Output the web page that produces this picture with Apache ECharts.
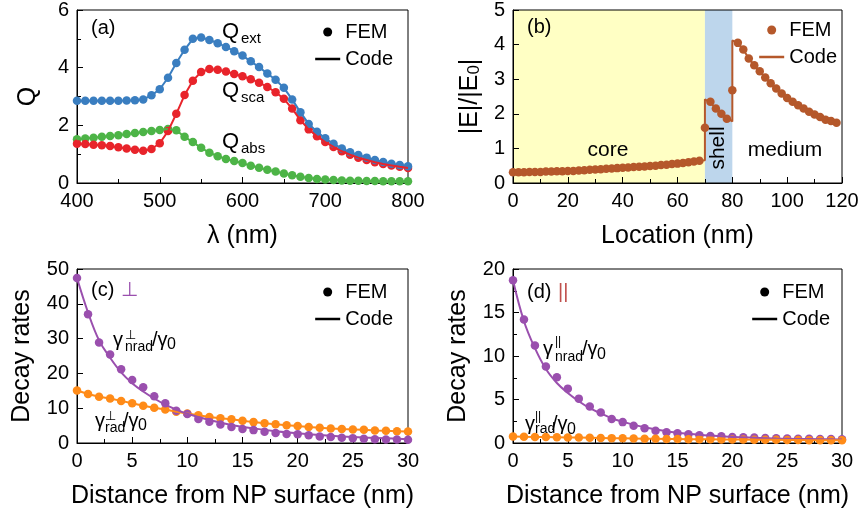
<!DOCTYPE html>
<html>
<head>
<meta charset="utf-8">
<script src="https://cdn.jsdelivr.net/npm/echarts@6/dist/echarts.min.js"></script>
<style>html,body{margin:0;padding:0;background:#fff;}#c{width:864px;height:521px;}</style>
</head>
<body>
<div id="c"></div>
<script>
// ---------- Panel (a) ----------
const wavelength = [400,410,420,430,440,450,460,470,480,490,500,510,520,530,540,550,560,570,580,590,600,610,620,630,640,650,660,670,680,690,700,710,720,730,740,750,760,770,780,790,800];
const qExt = [2.85,2.85,2.85,2.85,2.85,2.85,2.86,2.87,2.90,3.04,3.25,3.65,4.16,4.62,5.00,5.05,4.96,4.85,4.72,4.57,4.42,4.22,4.02,3.80,3.58,3.30,2.90,2.45,2.05,1.78,1.55,1.36,1.20,1.07,0.97,0.88,0.80,0.73,0.67,0.62,0.58];
const qSca = [1.36,1.35,1.33,1.31,1.28,1.24,1.20,1.15,1.12,1.18,1.38,1.80,2.40,3.05,3.55,3.85,3.95,3.93,3.87,3.78,3.70,3.60,3.48,3.33,3.15,2.92,2.58,2.18,1.86,1.62,1.42,1.25,1.10,0.98,0.88,0.80,0.72,0.66,0.61,0.56,0.52];
const qAbs = [1.52,1.54,1.57,1.60,1.63,1.66,1.70,1.73,1.77,1.80,1.84,1.87,1.83,1.60,1.42,1.22,1.05,0.93,0.83,0.76,0.69,0.60,0.53,0.46,0.40,0.33,0.27,0.22,0.17,0.14,0.12,0.10,0.09,0.08,0.08,0.07,0.07,0.06,0.06,0.06,0.06];

// ---------- Panel (b) ----------
const locFEM = [0,2,4,6,8,10,12,14,16,18,20,22,24,26,28,30,32,34,36,38,40,42,44,46,48,50,52,54,56,58,60,62,64,66,68,70,72,74,76,78,80,82,84,86,88,90,92,94,96,98,100,102,104,106,108,110,112,114,116,118];
const eFEM = [0.31,0.31,0.31,0.32,0.32,0.32,0.33,0.33,0.34,0.34,0.35,0.35,0.36,0.37,0.38,0.39,0.40,0.41,0.42,0.43,0.44,0.45,0.46,0.47,0.48,0.49,0.50,0.52,0.53,0.55,0.56,0.58,0.60,0.62,0.64,
  1.60,2.35,2.15,2.00,1.86,2.68,
  4.05,3.86,3.60,3.40,3.23,3.05,2.88,2.73,2.59,2.46,2.35,2.25,2.15,2.06,1.98,1.91,1.83,1.79,1.74];
const locCode = [0,10,20,30,40,50,60,64,68,70,70,72,74,76,78,80,80,82,84,86,88,90,92,94,96,98,100,102,104,106,108,110,112,114,116,118];
const eCode = [0.31,0.32,0.35,0.39,0.44,0.49,0.56,0.60,0.64,0.66,2.42,2.32,2.16,2.01,1.88,1.78,4.12,4.05,3.86,3.60,3.40,3.23,3.05,2.88,2.73,2.59,2.46,2.35,2.25,2.15,2.06,1.98,1.91,1.83,1.79,1.74];
const regionEdges = [0,70,80];
const regionNames = ['core','shell','medium'];

// ---------- Panels (c) and (d) ----------
const dist = [0,1,2,3,4,5,6,7,8,9,10,11,12,13,14,15,16,17,18,19,20,21,22,23,24,25,26,27,28,29,30];
const cNradFEM = [47.4,37.0,28.9,25.4,21.2,18.1,16.0,13.4,11.4,9.3,8.3,6.9,6.1,5.3,4.6,4.0,3.7,3.2,2.9,2.6,2.5,2.2,1.9,1.7,1.5,1.4,1.25,1.1,1.0,1.0,0.9];
const cRadFEM = [15.1,14.1,13.3,12.8,12.1,11.4,10.7,10.1,9.6,9.0,8.5,8.0,7.5,7.1,6.8,6.4,6.0,5.7,5.4,5.1,4.9,4.6,4.4,4.2,4.0,3.9,3.8,3.6,3.5,3.4,3.3];
const codeDist = [0,1,2,3,4,5,6,7,8,9,10,12,14,16,18,20,22,24,26,28,30];
const cNradCode = [47.4,37.5,29.5,24.5,20.3,17.2,14.8,12.8,11.0,9.6,8.4,6.6,5.2,4.2,3.4,2.8,2.3,1.9,1.6,1.35,1.1];
const dNradFEM = [18.7,14.2,11.2,8.8,7.55,6.25,5.1,4.2,3.5,2.77,2.4,1.97,1.7,1.42,1.23,1.12,1.0,0.89,0.81,0.77,0.69,0.66,0.62,0.58,0.55,0.53,0.5,0.49,0.46,0.45,0.42];
const dRadFEM = [0.75,0.72,0.70,0.68,0.66,0.64,0.62,0.60,0.58,0.56,0.54,0.52,0.50,0.49,0.47,0.46,0.44,0.43,0.42,0.41,0.40,0.39,0.38,0.37,0.36,0.35,0.34,0.33,0.33,0.32,0.31];
const dNradCode = [18.7,14.0,10.9,8.5,6.9,5.75,4.8,4.0,3.4,2.85,2.45,1.8,1.35,1.05,0.85,0.7,0.6,0.52,0.47,0.43,0.4];

const FONT = 'Liberation Sans, Arial, sans-serif';
const C = {blue:'#3A7EC0', red:'#E8242B', green:'#4DB447', brown:'#B5582B', purple:'#9A4FAE', orange:'#FF8B18', yellow:'#FFFFC4', lblue:'#BDD6EC', dred:'#C0504D'};
// thin horizontal line icon whose bounding box is 25x9 (tiny invisible slivers set the box)
const LINE_ICON = 'path://M0,0L25,0L25,0.01L0,0.01Z M0,3.25L25,3.25L25,5.75L0,5.75Z M0,8.99L25,8.99L25,9L0,9Z';

function zip(xs, ys){ return xs.map((x,i)=>[x, ys[i]]); }

function xAx(g, min, max, interval, name, minorSplit){
  return {gridIndex:g, type:'value', min:min, max:max, interval:interval, name:name,
    nameLocation:'middle', nameGap:41, z:1,
    nameTextStyle:{fontSize:25, color:'#000', fontFamily:FONT},
    axisLine:{show:true, onZero:false, lineStyle:{color:'#000', width:1}},
    axisTick:{show:true, inside:true, length:6, lineStyle:{color:'#000'}},
    minorTick:{show:!!minorSplit, splitNumber:minorSplit||5, length:4, lineStyle:{color:'#000'}},
    axisLabel:{color:'#000', fontSize:20, fontFamily:FONT, margin:8},
    splitLine:{show:false}};
}
function yAx(g, min, max, interval, name, nameGap, minorSplit, rich){
  return {gridIndex:g, type:'value', min:min, max:max, interval:interval, name:name,
    nameLocation:'middle', nameGap:nameGap, z:1,
    nameTextStyle:{fontSize:25, color:'#000', fontFamily:FONT, rich:rich},
    axisLine:{show:true, onZero:false, lineStyle:{color:'#000', width:1}},
    axisTick:{show:true, inside:true, length:6, lineStyle:{color:'#000'}},
    minorTick:{show:!!minorSplit, splitNumber:minorSplit||5, length:4, lineStyle:{color:'#000'}},
    axisLabel:{color:'#000', fontSize:20, fontFamily:FONT, margin:8},
    splitLine:{show:false}};
}
function fem(g, data, color){
  return {name:'FEM', type:'scatter', xAxisIndex:g, yAxisIndex:g, data:data, symbol:'circle',
    symbolSize:8.5, itemStyle:{color:color, opacity:1}, z:2, silent:true};
}
function code(g, data, color, smooth){
  return {name:'Code', type:'line', xAxisIndex:g, yAxisIndex:g, data:data, symbol:'none',
    smooth:smooth||false, lineStyle:{color:color, width:2}, itemStyle:{color:color}, z:3, silent:true};
}
function legendFor(right, top, color){
  return {right:right, top:top, orient:'vertical', padding:0, itemWidth:25, itemHeight:9, itemGap:7,
    selectedMode:false, align:'left',
    textStyle:{fontSize:20, color:'#000', fontFamily:FONT, padding:[0,0,0,0]},
    data:[{name:'FEM', icon:'circle', itemStyle:{color:color}},
          {name:'Code', icon:LINE_ICON, itemStyle:{color:color, borderWidth:0}}]};
}
function txt(x, y, s, size, opts){
  opts = opts || {};
  return {type:'text', x:x, y:y, z:20, silent:true, rotation:opts.rot||0,
    style:{text:s, fill:opts.color||'#000', font:size+'px '+FONT,
      align:opts.align||'left', verticalAlign:opts.va||'middle'}};
}

const grids = [
  {left:77, top:9, width:331, height:174},
  {left:513, top:9, width:329, height:174},
  {left:77, top:269, width:331, height:174},
  {left:513, top:269, width:329, height:174}
].map(g=>Object.assign({show:true, borderColor:'#000', borderWidth:1, backgroundColor:'transparent', z:1}, g));

const option = {
  animation:false,
  backgroundColor:'#fff',
  textStyle:{fontFamily:FONT},
  grid:grids,
  xAxis:[
    xAx(0, 400, 800, 100, 'λ (nm)', 2),
    xAx(1, 0, 120, 20, 'Location (nm)', 2),
    xAx(2, 0, 30, 5, 'Distance from NP surface (nm)', 2),
    xAx(3, 0, 30, 5, 'Distance from NP surface (nm)', 2)
  ],
  yAxis:[
    yAx(0, 0, 6, 2, 'Q', 36, 2),
    yAx(1, 0, 5, 1, '|E|/|E{s|0}|', 30, 0, {s:{fontSize:17, verticalAlign:'bottom', color:'#000', fontFamily:FONT}}),
    yAx(2, 0, 50, 10, 'Decay rates', 42, 0),
    yAx(3, 0, 20, 5, 'Decay rates', 42, 2)
  ],
  legend:[
    legendFor(471, 22, '#000'),
    legendFor(27, 20, C.brown),
    legendFor(471, 282, '#000'),
    legendFor(34, 282, '#000')
  ],
  series:[
    // background regions in (b)
    {name:'regions', type:'line', xAxisIndex:1, yAxisIndex:1, data:[], z:0, silent:true,
      markArea:{silent:true, z:0, data:[
        [{xAxis:regionEdges[0], itemStyle:{color:C.yellow}}, {xAxis:regionEdges[1]}],
        [{xAxis:regionEdges[1], itemStyle:{color:C.lblue}}, {xAxis:regionEdges[2]}]
      ]}},
    // (a)
    fem(0, zip(wavelength, qAbs), C.green),
    fem(0, zip(wavelength, qSca), C.red),
    fem(0, zip(wavelength, qExt), C.blue),
    code(0, zip(wavelength, qAbs), C.green),
    code(0, zip(wavelength, qExt), C.blue),
    code(0, zip(wavelength, qSca), C.red),
    // (b)
    fem(1, zip(locFEM, eFEM), C.brown),
    code(1, zip(locCode, eCode), C.brown),
    // (c)
    fem(2, zip(dist, cRadFEM), C.orange),
    fem(2, zip(dist, cNradFEM), C.purple),
    code(2, zip(dist, cRadFEM), C.orange),
    code(2, zip(codeDist, cNradCode), C.purple, 0.4),
    // (d)
    fem(3, zip(dist, dNradFEM), C.purple),
    fem(3, zip(dist, dRadFEM), C.orange),
    code(3, zip(codeDist, dNradCode), C.purple, 0.4),
    code(3, zip(dist, dRadFEM), C.orange)
  ],
  graphic:[
    txt(91, 28, '(a)', 20),
    txt(527, 27, '(b)', 20),
    txt(91, 290, '(c)', 20),
    txt(121, 290, '⊥', 20, {color:C.purple}),
    txt(527, 292, '(d)', 20),
    txt(558, 292, '||', 20, {color:C.dred}),
    // Q labels
    txt(222, 32, 'Q', 22), txt(241, 39, 'ext', 15),
    txt(222, 91, 'Q', 22), txt(241, 98, 'sca', 15),
    txt(222, 142, 'Q', 22), txt(241, 149, 'abs', 15),
    // regions in (b)
    txt(608, 150, regionNames[0], 21, {align:'center'}),
    txt(718, 148, regionNames[1], 21, {align:'center', rot:Math.PI/2}),
    txt(785, 150, regionNames[2], 21, {align:'center'}),
    // (c) gamma labels
    txt(113, 340, 'γ', 20), txt(125, 335, '⊥', 13), txt(125, 347, 'nrad', 14),
    txt(152, 340, '/γ', 20), txt(167, 345, '0', 16),
    txt(95, 421, 'γ', 20), txt(105, 416, '⊥', 13), txt(105, 428, 'rad', 14),
    txt(123, 421, '/γ', 20), txt(138, 426, '0', 16),
    // (d) gamma labels
    txt(543, 349, 'γ', 20), txt(555, 342, '||', 12), txt(555, 357, 'nrad', 14),
    txt(582, 349, '/γ', 20), txt(597, 355, '0', 16),
    txt(525, 424, 'γ', 20), txt(535, 417, '||', 12), txt(535, 429, 'rad', 14),
    txt(552, 424, '/γ', 20), txt(567, 430, '0', 16)
  ]
};

const chart = echarts.init(document.getElementById('c'), null, {renderer:'canvas'});
chart.setOption(option);
</script>
</body>
</html>
